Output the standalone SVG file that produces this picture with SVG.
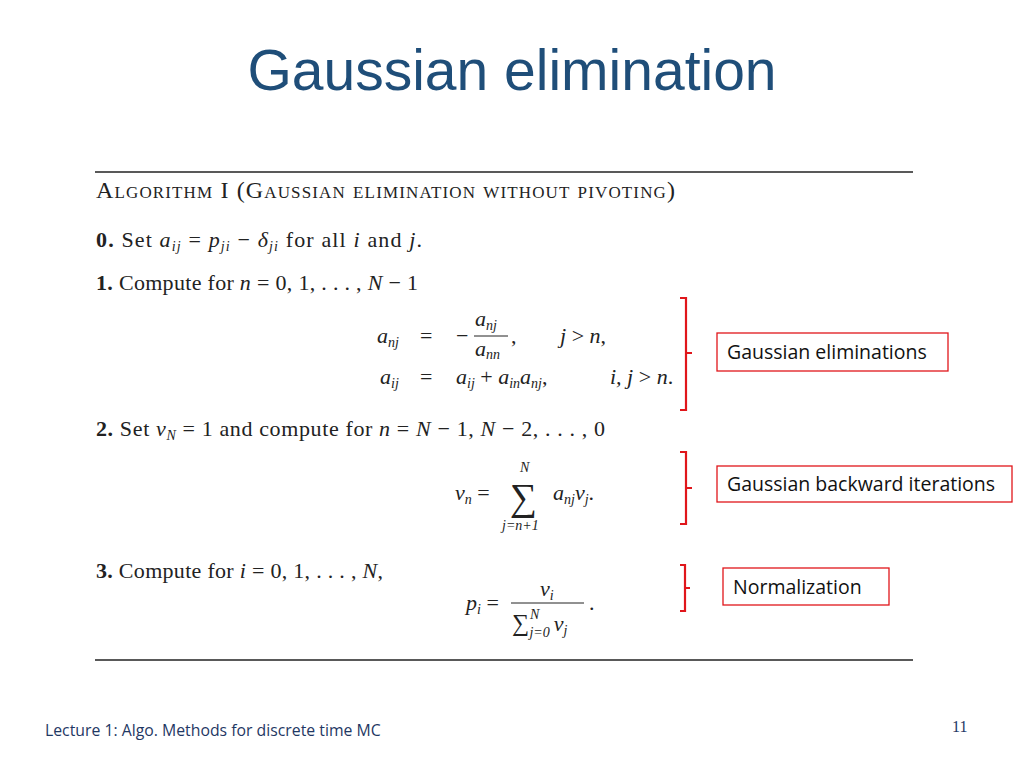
<svg xmlns="http://www.w3.org/2000/svg" width="1024" height="768" viewBox="0 0 1024 768">
<style>
.m{font-family:"Liberation Serif","DejaVu Serif",serif;font-size:22px;fill:#222}
.i{font-style:italic}
.s{font-size:14px;font-style:italic}
.b{font-weight:bold}
.lab{font-family:"Open Sans","Liberation Sans",sans-serif;font-size:19.5px;fill:#111}
.br{fill:none;stroke:#e0161b;stroke-width:2.2}
.bx{fill:#fff;stroke:#e0161b;stroke-width:1.3}
</style>
<rect width="1024" height="768" fill="#fff"/>
<text x="512" y="90" text-anchor="middle" font-family="Liberation Sans,Arial,sans-serif" font-size="57" fill="#1f4e79">Gaussian elimination</text>
<g stroke="#222" stroke-width="1.3"><line x1="95" y1="172" x2="913" y2="172"/><line x1="95" y1="660" x2="913" y2="660"/></g>
<text x="96" y="198" class="m" style="font-variant:small-caps;font-size:24px" textLength="579" lengthAdjust="spacing">Algorithm I (Gaussian elimination without pivoting)</text>
<text x="96" y="247" class="m" textLength="326" lengthAdjust="spacing"><tspan class="b">0.</tspan> Set <tspan class="i">a</tspan><tspan class="s" dy="4">ij</tspan><tspan dy="-4"> = </tspan><tspan class="i">p</tspan><tspan class="s" dy="4">ji</tspan><tspan dy="-4"> − </tspan><tspan class="i">δ</tspan><tspan class="s" dy="4">ji</tspan><tspan dy="-4"> for all </tspan><tspan class="i">i</tspan> and <tspan class="i">j</tspan>.</text>
<text x="96" y="290" class="m" textLength="322" lengthAdjust="spacing"><tspan class="b">1.</tspan> Compute for <tspan class="i">n</tspan> = 0, 1, . . . , <tspan class="i">N</tspan> − 1</text>
<g class="m">
<text x="377" y="343"><tspan class="i">a</tspan><tspan class="s" dy="4">nj</tspan></text>
<text x="420" y="343">=</text>
<text x="456" y="343">−</text>
<text x="475" y="326"><tspan class="i">a</tspan><tspan class="s" dy="4">nj</tspan></text>
<line x1="474" y1="336" x2="508" y2="336" stroke="#222" stroke-width="1"/>
<text x="475" y="356"><tspan class="i">a</tspan><tspan class="s" dy="3">nn</tspan></text>
<text x="511" y="343">,</text>
<text x="560" y="343"><tspan class="i">j</tspan> &gt; <tspan class="i">n</tspan>,</text>
<text x="380" y="384"><tspan class="i">a</tspan><tspan class="s" dy="4">ij</tspan></text>
<text x="420" y="384">=</text>
<text x="456" y="384"><tspan class="i">a</tspan><tspan class="s" dy="4">ij</tspan><tspan dy="-4"> + </tspan><tspan class="i">a</tspan><tspan class="s" dy="4">in</tspan><tspan class="i" dy="-4">a</tspan><tspan class="s" dy="4">nj</tspan><tspan dy="-4">,</tspan></text>
<text x="610" y="384"><tspan class="i">i, j</tspan> &gt; <tspan class="i">n</tspan>.</text>
</g>
<text x="96" y="436" class="m" textLength="509" lengthAdjust="spacing"><tspan class="b">2.</tspan> Set <tspan class="i">v</tspan><tspan class="s" dy="4">N</tspan><tspan dy="-4"> = 1 and compute for </tspan><tspan class="i">n</tspan> = <tspan class="i">N</tspan> − 1, <tspan class="i">N</tspan> − 2, . . . , 0</text>
<g class="m">
<text x="455" y="500"><tspan class="i">v</tspan><tspan class="s" dy="4">n</tspan><tspan dy="-4"> =</tspan></text>
<text x="510" y="510" style="font-size:38px">∑</text>
<text x="520" y="472" class="s">N</text>
<text x="502" y="530" class="s">j=n+1</text>
<text x="553" y="500"><tspan class="i">a</tspan><tspan class="s" dy="4">nj</tspan><tspan class="i" dy="-4">v</tspan><tspan class="s" dy="4">j</tspan><tspan dy="-4">.</tspan></text>
</g>
<text x="96" y="578" class="m" textLength="287" lengthAdjust="spacing"><tspan class="b">3.</tspan> Compute for <tspan class="i">i</tspan> = 0, 1, . . . , <tspan class="i">N</tspan>,</text>
<g class="m">
<text x="466" y="610"><tspan class="i">p</tspan><tspan class="s" dy="4">i</tspan><tspan dy="-4"> =</tspan></text>
<text x="540" y="596"><tspan class="i">v</tspan><tspan class="s" dy="4">i</tspan></text>
<line x1="511" y1="603" x2="584" y2="603" stroke="#222" stroke-width="1"/>
<text x="589" y="610">.</text>
<text x="512" y="631"><tspan style="font-size:24px">∑</tspan><tspan class="s" dx="1" dy="-12">N</tspan><tspan class="s" dx="-10" dy="18">j=0</tspan><tspan class="i" dx="4" dy="-6">v</tspan><tspan class="s" dy="4">j</tspan></text>
</g>
<g id="brackets">
<path class="br" d="M680 298H686V410H680M686 353H692"/>
<path class="br" d="M680 452H686V524H680M686 488H692"/>
<path class="br" d="M680 565H685V611H680M685 588H690"/>
</g>
<g id="n1"><rect class="bx" x="717" y="333" width="231" height="38"/><text class="lab" x="727" y="359">Gaussian eliminations</text></g>
<g id="n2"><rect class="bx" x="717" y="466" width="295" height="36"/><text class="lab" x="727" y="491">Gaussian backward iterations</text></g>
<g id="n3"><rect class="bx" x="723" y="568" width="166" height="37"/><text class="lab" x="733" y="594">Normalization</text></g>
<text x="45" y="736" font-family="Open Sans,Liberation Sans,sans-serif" font-size="15.8" fill="#1f3864">Lecture 1: Algo. Methods for discrete time MC</text>
<text x="952" y="732" font-family="Liberation Serif,serif" font-size="16" fill="#1f3864">11</text>
</svg>
